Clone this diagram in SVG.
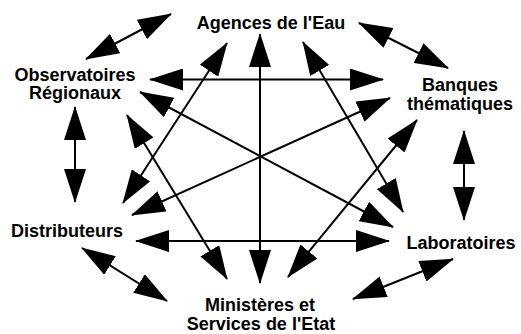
<svg xmlns="http://www.w3.org/2000/svg" width="521" height="334" viewBox="0 0 521 334">
<style>
.lbl{font-family:"Liberation Sans",Arial,sans-serif;font-weight:bold;font-size:18px;fill:#000;text-anchor:middle}
.c{stroke:#000;stroke-width:2;fill:none;marker-start:url(#ah);marker-end:url(#ah)}
</style>
<defs>
<marker id="ah" markerUnits="userSpaceOnUse" markerWidth="34" markerHeight="22" refX="33" refY="11" orient="auto-start-reverse" viewBox="0 0 34 22">
<path d="M0,0 L34,11 L0,22 z" fill="#000"/>
</marker>
</defs>
<rect width="521" height="334" fill="#fff"/>
<g id="connectors">
<line class="c" x1="150" y1="79.5" x2="383" y2="79.5"/>
<line class="c" x1="260" y1="34" x2="260" y2="283"/>
<line class="c" x1="136" y1="241" x2="389" y2="241"/>
<line class="c" x1="140" y1="92" x2="393" y2="227"/>
<line class="c" x1="390" y1="98" x2="132" y2="215"/>
<line class="c" x1="227" y1="43" x2="123" y2="203"/>
<line class="c" x1="127" y1="115" x2="227" y2="279"/>
<line class="c" x1="303" y1="42" x2="403" y2="212"/>
<line class="c" x1="417" y1="120" x2="288" y2="277"/>
<line class="c" x1="171" y1="14" x2="86" y2="59"/>
<line class="c" x1="359" y1="23" x2="448" y2="68"/>
<line class="c" x1="75" y1="107" x2="75" y2="202"/>
<line class="c" x1="464" y1="131" x2="464" y2="220"/>
<line class="c" x1="82" y1="248" x2="167" y2="301"/>
<line class="c" x1="453" y1="259" x2="353" y2="299"/>
</g>
<g id="agences"><text class="lbl" x="271" y="29">Agences de l'Eau</text></g>
<g id="observatoires"><text class="lbl" x="75" y="80.5">Observatoires</text><text class="lbl" x="75" y="99">Régionaux</text></g>
<g id="banques"><text class="lbl" x="460" y="90.5">Banques</text><text class="lbl" x="460" y="109.5">thématiques</text></g>
<g id="distributeurs"><text class="lbl" x="67" y="237">Distributeurs</text></g>
<g id="laboratoires"><text class="lbl" x="461" y="248.5">Laboratoires</text></g>
<g id="ministeres"><text class="lbl" x="260" y="311">Ministères et</text><text class="lbl" x="261" y="329.5">Services de l'Etat</text></g>
</svg>
